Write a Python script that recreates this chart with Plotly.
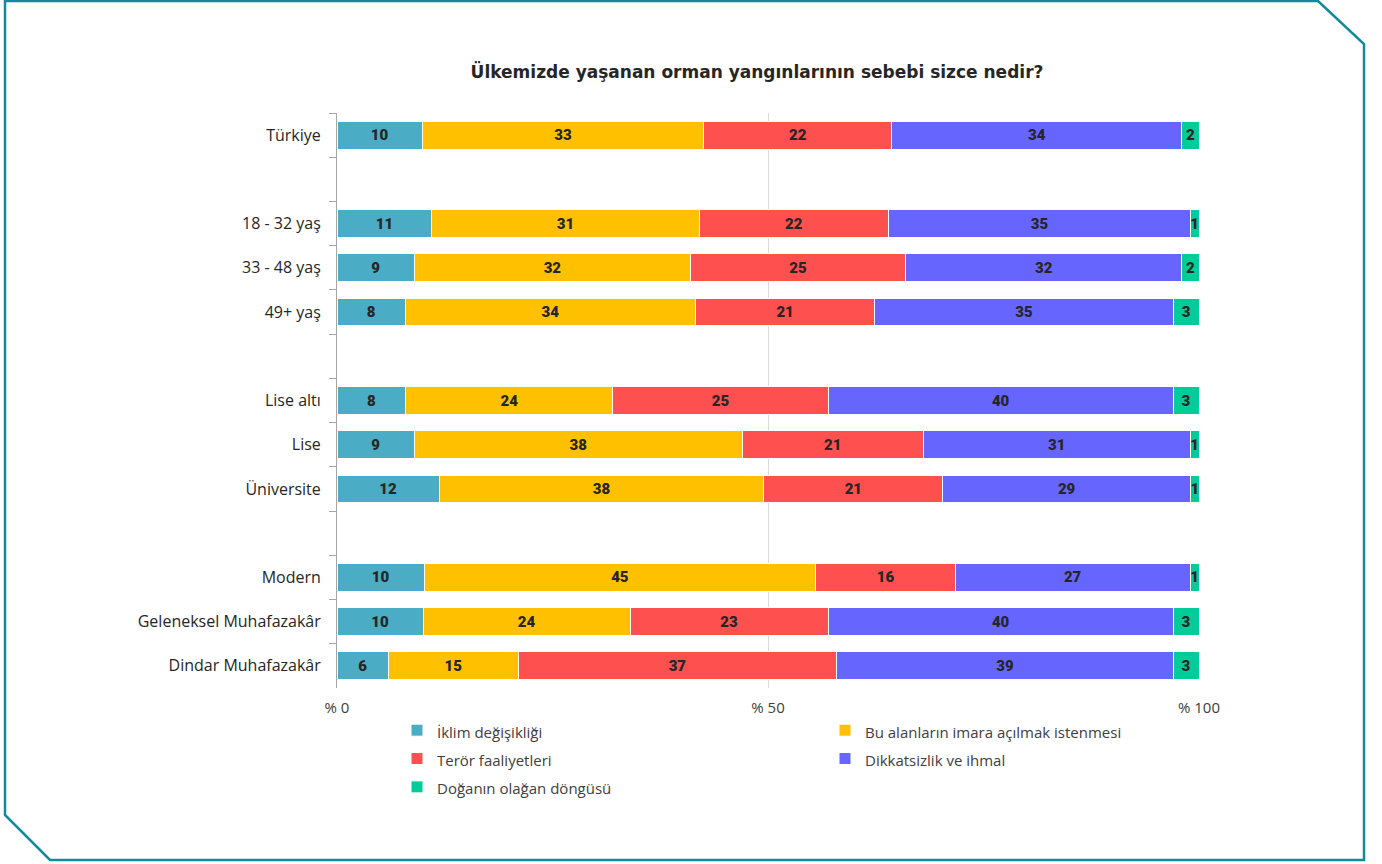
import plotly.graph_objects as go

# ---- data ----
categories = ["Türkiye", " ", "18 - 32 yaş", "33 - 48 yaş", "49+ yaş", "  ",
              "Lise altı", "Lise", "Üniversite", "   ",
              "Modern", "Geleneksel Muhafazakâr", "Dindar Muhafazakâr"]
series_names = ["İklim değişikliği", "Bu alanların imara açılmak istenmesi",
                "Terör faaliyetleri", "Dikkatsizlik ve ihmal", "Doğanın olağan döngüsü"]
iklim =        [10, None, 11, 9, 8, None, 8, 9, 12, None, 10, 10, 6]
imar =         [33, None, 31, 32, 34, None, 24, 38, 38, None, 45, 24, 15]
teror =        [22, None, 22, 25, 21, None, 25, 21, 21, None, 16, 23, 37]
dikkatsizlik = [34, None, 35, 32, 35, None, 40, 31, 29, None, 27, 40, 39]
doga =         [2, None, 1, 2, 3, None, 3, 1, 1, None, 1, 3, 3]
x_tickvals = [0, 50, 100]
x_ticktext = ["% 0", "% 50", "% 100"]
title_text = "Ülkemizde yaşanan orman yangınlarının sebebi sizce nedir?"

colors = ["#4BACC6", "#FFC000", "#FF5050", "#6666FF", "#00CC99"]
all_series = [iklim, imar, teror, dikkatsizlik, doga]

W, H = 1382, 864
L, R, T, B = 337, 1199, 113, 688

LABEL_FONT = "Open Sans, Liberation Sans, sans-serif"

fig = go.Figure()
for name, vals, col in zip(series_names, all_series, colors):
    fig.add_trace(go.Bar(
        y=categories, x=vals, orientation="h",
        name=f'<span style="font-size:15px">{name}</span>',
        marker=dict(color=col, line=dict(color="white", width=1)),
        text=[("" if v is None else str(v)) for v in vals],
        textposition="inside", insidetextanchor="middle", textangle=0,
        constraintext="none",
        textfont=dict(family="Roboto, Arial Black, sans-serif", size=15, color="#262626", weight=900),
        width=0.63, hoverinfo="x+y+name",
    ))

def px2x(px):
    return (px - L) / (R - L)

def py2y(py):
    return (B - py) / (B - T)

border_pts = [(5, 1), (1318, 1), (1364, 44), (1364, 860), (50, 860), (5, 815)]
path = "M " + " L ".join(f"{px2x(a):.5f},{py2y(b):.5f}" for a, b in border_pts) + " Z"

fig.update_layout(
    width=W, height=H,
    barmode="stack", barnorm="percent",
    plot_bgcolor="white", paper_bgcolor="white",
    margin=dict(l=L, r=W - R, t=T, b=H - B, autoexpand=False),
    title=dict(text=f"<b>{title_text}</b>", x=757 / W, xanchor="center",
               y=1 - 72 / H, yanchor="middle",
               font=dict(family="DejaVu Sans, sans-serif", size=17, color="#262626")),
    uniformtext=dict(minsize=15, mode="show"),
    showlegend=True,
    legend=dict(orientation="h", x=px2x(397), xanchor="left", y=py2y(711), yanchor="top",
                entrywidth=383, entrywidthmode="pixels", traceorder="normal",
                font=dict(family=LABEL_FONT, size=19.5, color="#404040"),
                bgcolor="rgba(0,0,0,0)"),
    shapes=[dict(type="path", path=path, xref="paper", yref="paper",
                 line=dict(color="#138A9C", width=2.5), layer="above")],
)

fig.update_xaxes(range=[0, 100], tickvals=x_tickvals, ticktext=x_ticktext,
                 showgrid=True, gridcolor="#D9D9D9", gridwidth=1, zeroline=False,
                 showline=False, ticks="", ticklabelstandoff=9,
                 tickfont=dict(family=LABEL_FONT, size=15, color="#404040"))
fig.update_yaxes(autorange="reversed", type="category", categoryorder="array",
                 categoryarray=categories,
                 showline=True, linecolor="#A6A6A6", linewidth=1,
                 ticks="outside", tickson="boundaries", ticklen=7, tickcolor="#A6A6A6",
                 showgrid=False, ticklabelstandoff=12,
                 tickfont=dict(family=LABEL_FONT, size=16, color="#262626"))

fig.write_html("out.html", config={"displayModeBar": False},
               post_script="document.body.style.margin='0px';")
